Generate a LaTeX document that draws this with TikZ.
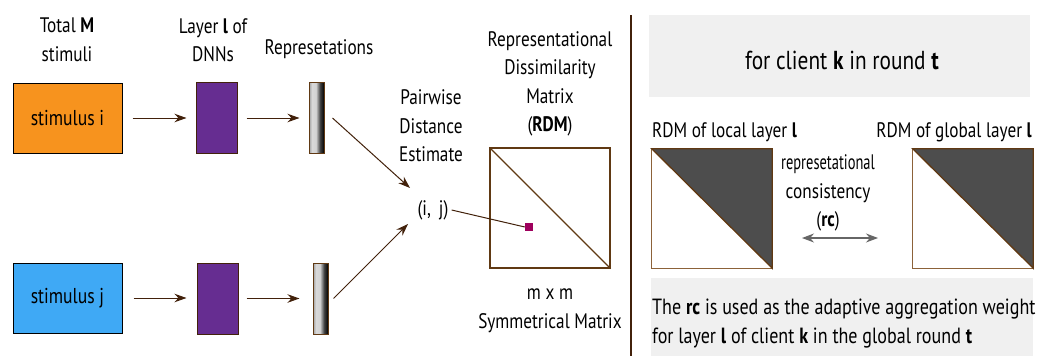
\documentclass[tikz,border=0pt]{standalone}
\usepackage{fontspec}
\usepackage{graphicx}
\setmainfont{PT Sans}[FakeStretch=0.82]
\usetikzlibrary{arrows.meta}
\definecolor{orng}{HTML}{F7931E}
\definecolor{skyb}{HTML}{3FA9F5}
\definecolor{purp}{HTML}{662D91}
\definecolor{dbrown}{HTML}{42210B}
\definecolor{mbrown}{HTML}{603913}
\definecolor{lbrown}{HTML}{8C6239}
\definecolor{magen}{HTML}{9E005D}
\definecolor{dgray}{HTML}{4D4D4D}
\definecolor{lgray}{HTML}{F0F0F0}
\definecolor{agray}{HTML}{666666}
\pgfdeclarehorizontalshading{barshade}{100bp}{color(0bp)=(gray!75); color(25bp)=(gray!75); color(35bp)=(gray!30); color(48bp)=(gray!35); color(62bp)=(black!75); color(75bp)=(black); color(100bp)=(black)}
\tikzset{
  txt/.style={inner sep=0pt, align=center, font=\fontsize{21}{28.5}\selectfont},
  stimbox/.style={draw=black, line width=1pt, inner sep=0pt, minimum width=109pt, minimum height=70pt, font=\fontsize{21.5}{28.5}\selectfont},
  layerbox/.style={draw=dbrown, line width=1pt, fill=purp, inner sep=0pt, minimum width=41pt, minimum height=71pt},
  repbar/.style={draw=mbrown, line width=1pt, shading=barshade, inner sep=0pt, minimum width=15pt, minimum height=71pt},
  arr/.style={draw=dbrown, line width=1pt, -{Stealth[length=12pt,width=8.5pt]}},
  dbl/.style={draw=agray, line width=1.2pt, {Stealth[length=12pt,width=9pt]}-{Stealth[length=12pt,width=9pt]}},
  mat/.style={draw=mbrown, line width=1.3pt},
}
\begin{document}
\begin{tikzpicture}[x=1pt,y=-1pt]
\useasboundingbox (0,0) rectangle (1044,356);
% left panel
\node[txt] (ttl1) at (67,40) {Total \textbf{M}\\stimuli};
\node[txt] (ttl2) at (213,40) {Layer \textbf{l} of\\DNNs};
\node[txt] (ttl3) at (319,49) {Represetations};
\node[stimbox, fill=orng] (si) at (67.5,118) {stimulus i};
\node[stimbox, fill=skyb] (sj) at (67.5,298) {stimulus j};
\node[layerbox] (la) at (216.5,118) {};
\node[layerbox] (lb) at (217.5,298.5) {};
\node[repbar] (ba) at (316.5,118) {};
\node[repbar] (bb) at (320.5,298.5) {};
\draw[arr, shorten <=10pt, shorten >=9pt] (si.east) -- (si.east -| la.west);
\draw[arr, shorten <=9pt, shorten >=9pt] (la.east) -- (la.east -| ba.west);
\draw[arr, shorten <=11pt, shorten >=10pt] (sj.east) -- (sj.east -| lb.west);
\draw[arr, shorten <=8pt, shorten >=13pt] (lb.east) -- (lb.east -| bb.west);
\node[txt] (pde) at (431,126) {Pairwise\\Distance\\Estimate};
\node[txt] (ij) at (433,210) {(i,\, j)};
\coordinate (tipa) at (410,188);
\coordinate (tipb) at (408,224);
\draw[arr] ([xshift=8pt]ba.east) -- (tipa);
\draw[arr] ([xshift=5pt]bb.east) -- (tipb);
% RDM
\node[txt] (rdmt) at (550,84) {Representational\\Dissimilarity\\Matrix\\(\textbf{RDM})};
\node[draw=mbrown, line width=1.2pt, inner sep=0pt, minimum width=120pt, minimum height=120pt] (rdm) at (550,208) {};
\draw[mbrown, line width=1.2pt] (rdm.north west) -- (rdm.south east);
\node[fill=magen, inner sep=0pt, minimum size=8pt] (sq) at (529,227) {};
\draw[dbrown, line width=1pt] ([xshift=3pt]ij.east) -- (sq.west);
\node[txt] (symm) at (550,311) {m x m\\Symmetrical Matrix};
% divider
\coordinate (dtop) at (631,15);
\coordinate (dbot) at (631,356);
\draw[dbrown, line width=1.2pt] (dtop) -- (dbot);
% right panel
\node[fill=lgray, inner sep=0pt, minimum width=381pt, minimum height=82pt] (hdr) at (839.5,56) {};
\node[txt, font=\fontsize{26}{30}\selectfont] (hdrt) at (842,60) {for client \textbf{k} in round \textbf{t}};
\node[txt, anchor=base west] (lloc) at (652,137) {RDM of local layer \textbf{l}};
\node[txt, anchor=base east] (lglo) at (1032,137) {RDM of global layer \textbf{l}};
\node[inner sep=0pt, minimum width=120pt, minimum height=119pt] (ml) at (712,208.5) {};
\fill[dgray] (ml.north west) -- (ml.north east) -- (ml.south east) -- cycle;
\draw[lbrown, line width=1.3pt] (ml.north west) -- (ml.south west) -- (ml.south east);
\draw[mat] (ml.south east) -- (ml.north east) -- (ml.north west) -- cycle;
\node[inner sep=0pt, minimum width=120pt, minimum height=119pt] (mg) at (973,208.5) {};
\fill[dgray] (mg.north west) -- (mg.north east) -- (mg.south east) -- cycle;
\draw[lbrown, line width=1.3pt] (mg.north west) -- (mg.south west) -- (mg.south east);
\draw[mat] (mg.south east) -- (mg.north east) -- (mg.north west) -- cycle;
\node[txt] (rct) at (828,193) {\scalebox{0.84}[1]{represetational}\\consistency\\(\textbf{rc})};
\coordinate (dl) at (802,238);
\coordinate (dr) at (878,238);
\draw[dbl] (dl) -- (dr);
\node[fill=lgray, inner sep=0pt, minimum width=382pt, minimum height=78pt] (ftr) at (842,317) {};
\node[txt, align=left, anchor=west, font=\fontsize{22}{29}\selectfont] (ftrt) at (652,324) {The \textbf{rc} is used as the adaptive aggregation weight\\for layer \textbf{l} of client \textbf{k} in the global round \textbf{t}};
\end{tikzpicture}
\end{document}
